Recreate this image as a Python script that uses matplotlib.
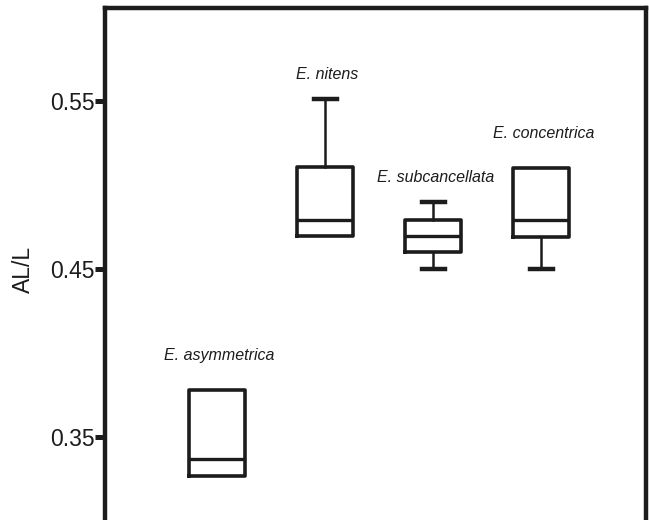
import matplotlib
matplotlib.use('Agg')
import matplotlib.pyplot as plt

# species and box statistics (AL/L ratio)
species = ['E. asymmetrica', 'E. nitens', 'E. subcancellata', 'E. concentrica']
whislo = [0.327, 0.470, 0.450, 0.450]
q1 = [0.327, 0.470, 0.460, 0.469]
med = [0.337, 0.479, 0.470, 0.479]
q3 = [0.378, 0.511, 0.479, 0.510]
whishi = [0.378, 0.551, 0.490, 0.510]
yticks = [0.35, 0.45, 0.55]

plt.rcParams['font.family'] = ['Liberation Sans', 'DejaVu Sans']
ink = '#1c1c1c'

fig = plt.figure(figsize=(6.49, 5.2), dpi=100)
ax = fig.add_axes([0.1618, -0.0346, 0.8336, 1.0192])

stats = []
for i in range(len(species)):
    stats.append({'label': species[i], 'whislo': whislo[i], 'q1': q1[i],
                  'med': med[i], 'q3': q3[i], 'whishi': whishi[i], 'fliers': []})

pos = list(range(1, len(species) + 1))
bp = ax.bxp(stats, positions=pos, widths=0.52, showfliers=False,
            boxprops=dict(color=ink, linewidth=2.6),
            medianprops=dict(color=ink, linewidth=2.4),
            whiskerprops=dict(color=ink, linewidth=1.8),
            capprops=dict(color=ink, linewidth=3.2),
            capwidths=0.21)

# no cap where the whisker has no length
for i in range(len(species)):
    if whislo[i] >= q1[i]:
        bp['caps'][2 * i].set_visible(False)
    if whishi[i] <= q3[i]:
        bp['caps'][2 * i + 1].set_visible(False)

# species names above each box
gaps = [0.018, 0.012, 0.012, 0.018]
for i, name in enumerate(species):
    ax.text(pos[i] + 0.02, whishi[i] + gaps[i], name, style='italic',
            fontsize=11.5, color=ink, ha='center', va='baseline')

ax.set_xlim(-0.04, 4.97)
ax.set_ylim(0.29, 0.6054)
ax.set_xticks([])
ax.set_yticks(yticks)
ax.set_yticklabels(['%.2f' % t for t in yticks])
ax.tick_params(axis='y', direction='out', length=7.5, width=3.6, color=ink,
               labelsize=16.5, labelcolor=ink, pad=0)
ax.set_ylabel('AL/L', fontsize=16.5, color=ink)
ax.yaxis.set_label_coords(-0.129, 0.506)
for s in ax.spines.values():
    s.set_linewidth(3.2)
    s.set_color(ink)

fig.savefig('out.png', dpi=100)
